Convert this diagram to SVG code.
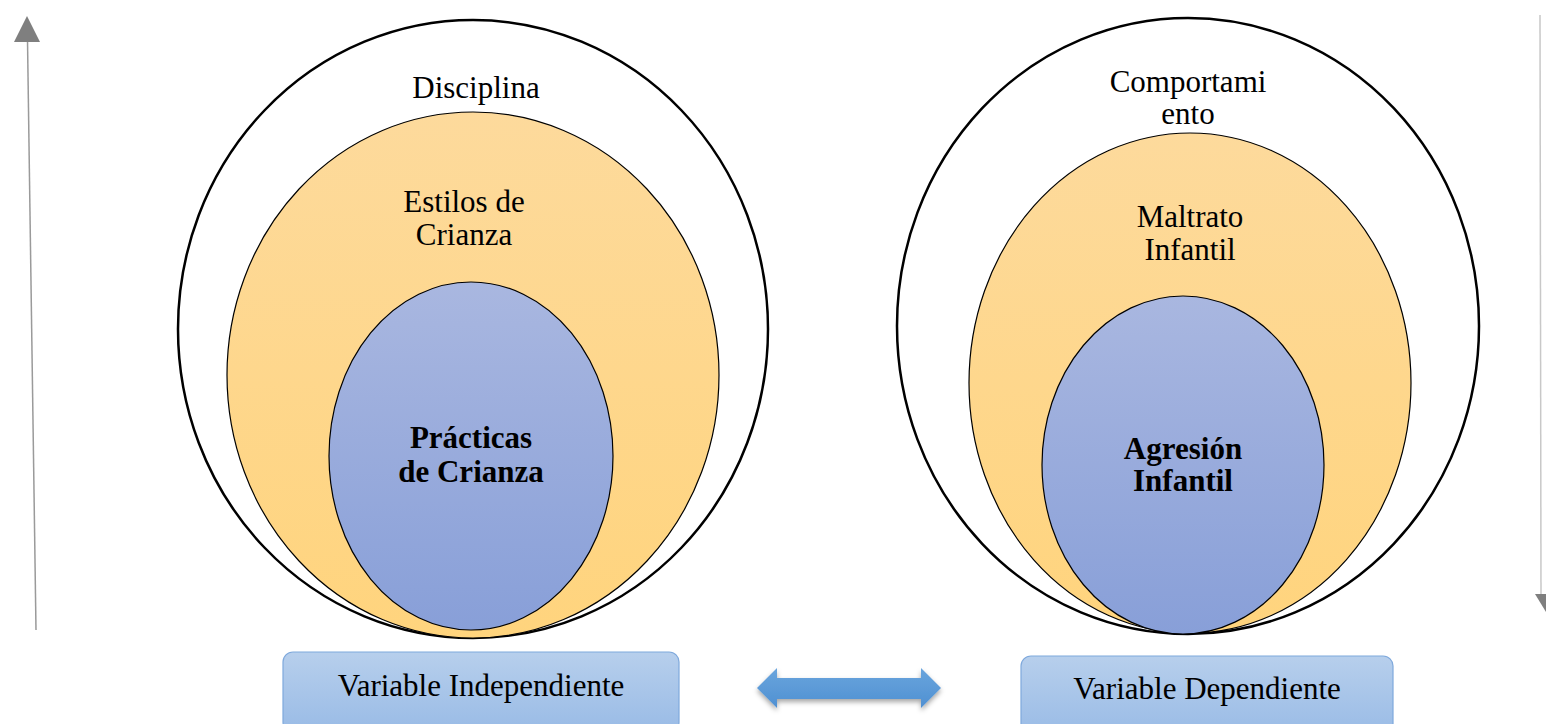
<svg xmlns="http://www.w3.org/2000/svg" width="1546" height="724" viewBox="0 0 1546 724">
<style>
.t{font-family:'Liberation Serif','Tinos','DejaVu Serif',serif;font-size:31px;fill:#000;text-anchor:middle}
.b{font-weight:bold}
.outer{fill:#fff;stroke:#000;stroke-width:2.5}
.mid{fill:url(#gOr);stroke:#000;stroke-width:1.2}
.inn{fill:url(#gBl);stroke:#000;stroke-width:1.2}
.box{fill:url(#gBox);stroke:#7fa9dc;stroke-width:1.2}
</style>
<defs>
<linearGradient id="gOr" x1="0" y1="0" x2="0" y2="1"><stop offset="0" stop-color="#fdda9c"/><stop offset="1" stop-color="#ffd47d"/></linearGradient>
<linearGradient id="gBl" x1="0" y1="0" x2="0" y2="1"><stop offset="0" stop-color="#a9b7e0"/><stop offset="1" stop-color="#889fd8"/></linearGradient>
<linearGradient id="gBox" x1="0" y1="0" x2="0" y2="1"><stop offset="0" stop-color="#b7cfec"/><stop offset="1" stop-color="#99bbe6"/></linearGradient>
<linearGradient id="gAr" x1="0" y1="0" x2="0" y2="1"><stop offset="0" stop-color="#6aa5dd"/><stop offset="1" stop-color="#4f90d2"/></linearGradient>
<filter id="sh" x="-10%" y="-30%" width="120%" height="170%"><feDropShadow dx="0" dy="3" stdDeviation="2.5" flood-color="#000" flood-opacity="0.35"/></filter>
</defs>

<g id="connectors">
<line x1="36" y1="630" x2="27.5" y2="40" stroke="#9a9a9a" stroke-width="1.5"/>
<polygon points="27,16 40,42 14,42" fill="#7f7f7f"/>
<line x1="1540" y1="15" x2="1541" y2="594" stroke="#c8c8c8" stroke-width="1.5"/>
<polygon points="1535,594 1546,594 1546,612" fill="#7f7f7f"/>
<polygon points="757,688 777,668 777,678 921,678 921,668 941,688 921,708 921,699 777,699 777,708" fill="url(#gAr)" filter="url(#sh)"/>
</g>

<g id="left-outer"><ellipse class="outer" cx="473" cy="329" rx="295" ry="309"/><text class="t" x="476" y="98" font-family="Liberation Serif, serif">Disciplina</text></g>
<g id="left-mid"><ellipse class="mid" cx="473" cy="375" rx="246" ry="263"/><text class="t" x="464" y="212">Estilos de</text><text class="t" x="464" y="245">Crianza</text></g>
<g id="left-inner"><ellipse class="inn" cx="471" cy="456" rx="142" ry="174"/><text class="t b" x="471" y="448">Prácticas</text><text class="t b" x="471" y="482">de Crianza</text></g>

<g id="right-outer"><ellipse class="outer" cx="1188" cy="326" rx="291" ry="308"/><text class="t" x="1188" y="92">Comportami</text><text class="t" x="1188" y="124">ento</text></g>
<g id="right-mid"><ellipse class="mid" cx="1190" cy="383" rx="221" ry="250"/><text class="t" x="1190" y="227">Maltrato</text><text class="t" x="1190" y="260">Infantil</text></g>
<g id="right-inner"><ellipse class="inn" cx="1183" cy="465" rx="141" ry="169"/><text class="t b" x="1183" y="459">Agresión</text><text class="t b" x="1183" y="491">Infantil</text></g>

<g id="box-independiente"><rect class="box" x="283" y="652" width="396" height="80" rx="10"/><text class="t" x="481" y="696">Variable Independiente</text></g>
<g id="box-dependiente"><rect class="box" x="1021" y="656" width="372" height="80" rx="10"/><text class="t" x="1207" y="699">Variable Dependiente</text></g>
</svg>
